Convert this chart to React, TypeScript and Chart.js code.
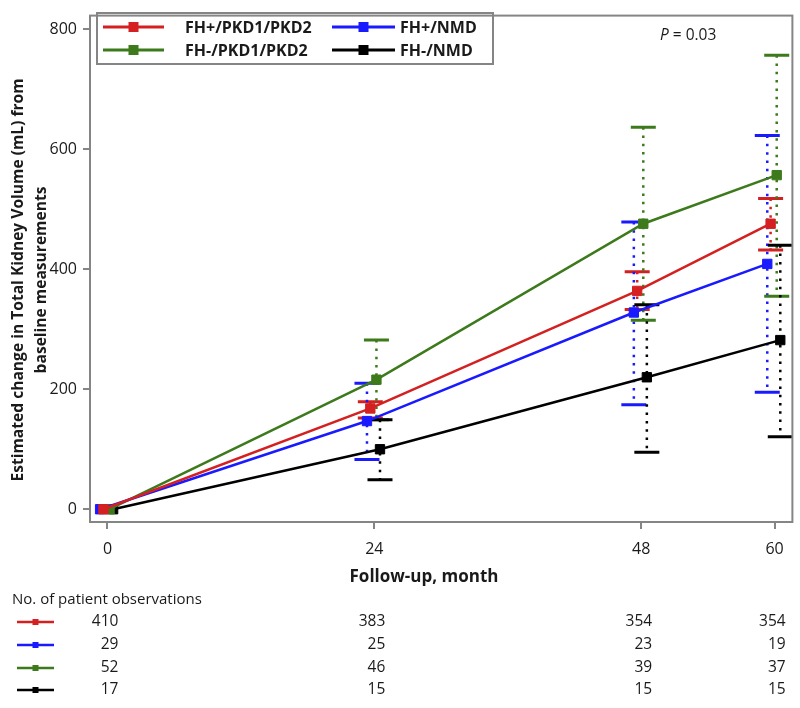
import React, { useEffect, useRef } from 'react';
import { Chart, registerables } from 'chart.js';

Chart.register(...registerables);

const months = [0, 24, 48, 60];
const xTickLabels = ['0', '24', '48', '60'];
const yTickValues = [0, 200, 400, 600, 800];

const seriesNames = ['FH+/PKD1/PKD2', 'FH+/NMD', 'FH-/PKD1/PKD2', 'FH-/NMD'];
const seriesColors = ['#d42020', '#1a1aff', '#3d7a1c', '#000000'];
const seriesOffsets = [-0.36, -0.66, 0.19, 0.51];

const redMean = [0, 168, 364, 476];
const redLow = [0, 152, 333, 432];
const redHigh = [0, 179, 396, 518];

const blueMean = [0, 147, 328, 409];
const blueLow = [0, 83, 174, 195];
const blueHigh = [0, 210, 479, 623];

const greenMean = [0, 216, 476, 557];
const greenLow = [0, 149, 315, 355];
const greenHigh = [0, 282, 637, 757];

const blackMean = [0, 100, 220, 282];
const blackLow = [0, 49, 95, 121];
const blackHigh = [0, 149, 341, 440];

const redN = [410, 383, 354, 354];
const blueN = [29, 25, 23, 19];
const greenN = [52, 46, 39, 37];
const blackN = [17, 15, 15, 15];

const means = [redMean, blueMean, greenMean, blackMean];
const lows = [redLow, blueLow, greenLow, blackLow];
const highs = [redHigh, blueHigh, greenHigh, blackHigh];
const counts = [redN, blueN, greenN, blackN];

const yTitleLines = ['Estimated change in Total Kidney Volume (mL) from', 'baseline measurements'];
const xTitle = 'Follow-up, month';
const tableTitle = 'No. of patient observations';
const pLabel = 'P';
const pValueText = ' = 0.03';

const FONT = '"Open Sans", "DejaVu Sans", sans-serif';
const TEXT = '#1a1a1a';
const FRAME = '#858585';

const errorBarPlugin = {
  id: 'errorBars',
  beforeDatasetsDraw(chart: any) {
    const ctx = chart.ctx;
    const ys = chart.scales.y;
    ctx.save();
    chart.data.datasets.forEach((ds: any, i: number) => {
      const meta = chart.getDatasetMeta(i);
      meta.data.forEach((pt: any, j: number) => {
        const lo = lows[i][j];
        const hi = highs[i][j];
        if (hi === lo) return;
        const x = pt.x;
        const yLo = ys.getPixelForValue(lo);
        const yHi = ys.getPixelForValue(hi);
        ctx.strokeStyle = seriesColors[i];
        ctx.lineWidth = 2.5;
        ctx.setLineDash([2.5, 5.8]);
        ctx.beginPath();
        ctx.moveTo(x, yHi);
        ctx.lineTo(x, yLo);
        ctx.stroke();
        ctx.setLineDash([]);
        ctx.lineWidth = 3;
        ctx.beginPath();
        ctx.moveTo(x - 12.5, yHi);
        ctx.lineTo(x + 12.5, yHi);
        ctx.moveTo(x - 12.5, yLo);
        ctx.lineTo(x + 12.5, yLo);
        ctx.stroke();
      });
    });
    ctx.restore();
  },
};

function drawSample(ctx: any, x1: number, x2: number, y: number, color: string, lw: number, sq: number) {
  ctx.strokeStyle = color;
  ctx.lineWidth = lw;
  ctx.beginPath();
  ctx.moveTo(x1, y);
  ctx.lineTo(x2, y);
  ctx.stroke();
  ctx.fillStyle = color;
  const cx = (x1 + x2) / 2;
  ctx.fillRect(cx - sq / 2, y - sq / 2, sq, sq);
}

const decorPlugin = {
  id: 'decor',
  afterDraw(chart: any) {
    const ctx = chart.ctx;
    const a = chart.chartArea;
    const xs = chart.scales.x;
    ctx.save();
    // frame
    ctx.strokeStyle = FRAME;
    ctx.lineWidth = 2;
    ctx.strokeRect(a.left, a.top, a.right - a.left, a.bottom - a.top);

    // legend box
    ctx.strokeStyle = FRAME;
    ctx.lineWidth = 2;
    ctx.strokeRect(97, 13, 396, 51);
    const legendPos = [
      { lx1: 103, lx2: 164, tx: 185, y: 27 },
      { lx1: 332, lx2: 395, tx: 400, y: 27 },
      { lx1: 103, lx2: 164, tx: 185, y: 50 },
      { lx1: 332, lx2: 395, tx: 400, y: 50 },
    ];
    seriesNames.forEach((name, i) => {
      const p = legendPos[i];
      drawSample(ctx, p.lx1, p.lx2, p.y, seriesColors[i], 3, 10);
      ctx.fillStyle = TEXT;
      ctx.font = `bold 16px ${FONT}`;
      ctx.textAlign = 'left';
      ctx.textBaseline = 'middle';
      ctx.fillText(name, p.tx, p.y + 1);
    });

    // P value
    ctx.fillStyle = TEXT;
    ctx.textBaseline = 'middle';
    ctx.textAlign = 'left';
    ctx.font = `italic 15.5px ${FONT}`;
    ctx.fillText(pLabel, 660, 36);
    const pw = ctx.measureText(pLabel).width;
    ctx.font = `15.5px ${FONT}`;
    ctx.fillText(pValueText, 660 + pw, 36);

    // y title
    ctx.save();
    ctx.font = `bold 15.6px ${FONT}`;
    ctx.textAlign = 'center';
    ctx.textBaseline = 'alphabetic';
    ctx.fillStyle = TEXT;
    const baselines = [23, 46];
    yTitleLines.forEach((line, i) => {
      ctx.save();
      ctx.translate(baselines[i], 280);
      ctx.rotate(-Math.PI / 2);
      ctx.fillText(line, 0, 0);
      ctx.restore();
    });
    ctx.restore();

    // x title
    ctx.font = `bold 17px ${FONT}`;
    ctx.textAlign = 'center';
    ctx.textBaseline = 'middle';
    ctx.fillStyle = TEXT;
    ctx.fillText(xTitle, 424, 577);

    // table
    ctx.font = `15px ${FONT}`;
    ctx.textAlign = 'left';
    ctx.fillText(tableTitle, 12, 600);
    const rowY = [622, 645, 668, 690];
    counts.forEach((row, i) => {
      drawSample(ctx, 17, 54, rowY[i], seriesColors[i], 2.5, 6);
      ctx.fillStyle = TEXT;
      ctx.font = `15.5px ${FONT}`;
      ctx.textAlign = 'right';
      ctx.textBaseline = 'middle';
      row.forEach((n, j) => {
        ctx.fillText(String(n), xs.getPixelForValue(months[j]) + 11, rowY[i]);
      });
    });
    ctx.restore();
  },
};

export default function App() {
  const ref = useRef<HTMLCanvasElement | null>(null);

  useEffect(() => {
    document.body.style.margin = '0';
    const canvas = ref.current;
    if (!canvas) return;
    const datasets = seriesNames.map((name, i) => ({
      label: name,
      data: months.map((m, j) => ({ x: m + seriesOffsets[i], y: means[i][j] })),
      borderColor: seriesColors[i],
      backgroundColor: seriesColors[i],
      borderWidth: 2.5,
      pointStyle: 'rect',
      pointRadius: 6.6,
      pointBorderWidth: 1,
      pointHoverRadius: 6.6,
      tension: 0,
      fill: false,
    }));
    const chart = new Chart(canvas, {
      type: 'line',
      data: { datasets },
      options: {
        animation: false,
        responsive: false,
        maintainAspectRatio: false,
        layout: { padding: { top: 7, right: 6, left: 0, bottom: 0 } },
        plugins: {
          legend: { display: false },
          tooltip: { enabled: false },
          title: { display: false },
        },
        scales: {
          x: {
            type: 'linear',
            min: -1.57,
            max: 61.6,
            afterBuildTicks: (scale: any) => {
              scale.ticks = months.map((v) => ({ value: v }));
            },
            afterFit: (scale: any) => {
              scale.height = 186;
            },
            ticks: {
              autoSkip: false,
              maxRotation: 0,
              padding: 11,
              color: TEXT,
              font: { family: FONT, size: 16 },
              callback: (v: any) => {
                const idx = months.indexOf(Number(v));
                return idx >= 0 ? xTickLabels[idx] : '';
              },
            },
            grid: { drawOnChartArea: false, drawTicks: true, tickLength: 7, color: FRAME, lineWidth: 2 },
            border: { display: true, color: FRAME, width: 2 },
          },
          y: {
            type: 'linear',
            min: -21.3,
            max: 823,
            afterBuildTicks: (scale: any) => {
              scale.ticks = yTickValues.map((v) => ({ value: v }));
            },
            afterFit: (scale: any) => {
              scale.width = 90;
            },
            ticks: {
              autoSkip: false,
              padding: 6,
              color: TEXT,
              font: { family: FONT, size: 16 },
              callback: (v: any) => String(v),
            },
            grid: { drawOnChartArea: false, drawTicks: true, tickLength: 7, color: FRAME, lineWidth: 2 },
            border: { display: true, color: FRAME, width: 2 },
          },
        },
      },
      plugins: [errorBarPlugin, decorPlugin],
    } as any);
    return () => chart.destroy();
  }, []);

  return (
    <div style={{ width: 800, height: 708 }}>
      <canvas ref={ref} width={800} height={708} style={{ display: 'block', width: 800, height: 708 }} />
    </div>
  );
}
